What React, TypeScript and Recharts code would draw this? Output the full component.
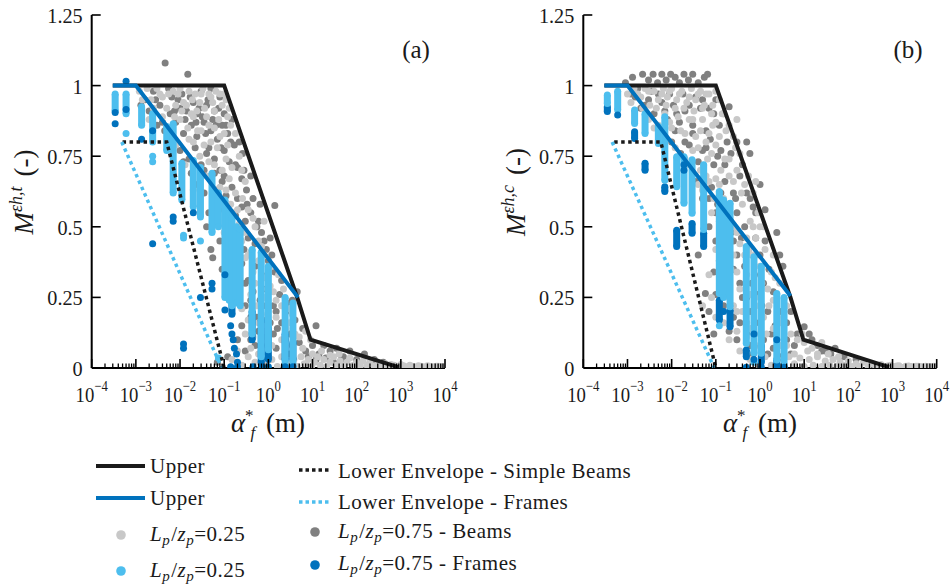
import React from 'react';
import { ScatterChart, Scatter, XAxis, YAxis } from 'recharts';

type P = [number, number];
type S = [number, number, number];

const FONT = 'Liberation Serif, DejaVu Serif, serif';
const FS = { fontFamily: FONT };
const CSS = `.cmfig, .cmfig text, .cmfig tspan { font-family: 'Liberation Serif', 'DejaVu Serif', serif !important; }`;
const C_LG = '#c8c8c8';
const C_DG = '#808080';
const C_LB = '#4dbeee';
const C_DB = '#0072bd';
const C_BLK = '#1a1a1a';

// axis ticks
const X_MAJOR = [1e-4, 1e-3, 1e-2, 1e-1, 1, 10, 100, 1000, 10000];
const X_EXP = ['\u22124', '\u22123', '\u22122', '\u22121', '0', '1', '2', '3', '4'];
const X_MINOR_STEPS = [2, 3, 4, 5, 6, 7, 8, 9];
const Y_TICKS = [0, 0.25, 0.5, 0.75, 1, 1.25];
const Y_LABELS = ['0', '0.25', '0.5', '0.75', '1', '1.25'];

// ---------- panel (a) ----------
const UPPER_BLACK_A: P[] = [[3e-4, 1], [0.1, 1], [4.5, 0.25], [9, 0.1], [880, 0.003]];
const UPPER_BLUE_A: P[] = [[3e-4, 1], [1e-3, 1], [4.7, 0.25]];
const LOWER_BEAMS_A: P[] = [[5e-4, 0.8], [5e-3, 0.8], [0.1, 0]];
const LOWER_FRAMES_A: P[] = [[4.8e-4, 0.8], [0.088, 0]];

const DG_A: P[] = [
  [0.0046, 1.08], [0.015, 1.04], [0.0025, 0.98], [0.0055, 0.99], [0.011, 0.97], [0.03, 0.98], [0.05, 0.99],
  [0.0016, 0.95], [0.002, 0.91], [0.0035, 0.93], [0.006, 0.9], [0.009, 0.95], [0.014, 0.91], [0.02, 0.94], [0.025, 0.9], [0.04, 0.93], [0.06, 0.91], [0.08, 0.96], [0.1, 0.9],
  [0.003, 0.86], [0.0045, 0.84], [0.008, 0.87], [0.012, 0.83], [0.018, 0.86], [0.024, 0.82], [0.035, 0.87], [0.05, 0.84], [0.07, 0.81], [0.09, 0.86], [0.12, 0.83], [0.15, 0.88],
  [0.01, 0.77], [0.016, 0.74], [0.022, 0.78], [0.03, 0.72], [0.04, 0.76], [0.06, 0.74], [0.08, 0.7], [0.1, 0.77], [0.13, 0.73], [0.17, 0.79], [0.2, 0.71], [0.26, 0.76],
  [0.025, 0.65], [0.035, 0.62], [0.05, 0.67], [0.07, 0.63], [0.09, 0.66], [0.11, 0.61], [0.15, 0.64], [0.2, 0.6], [0.25, 0.67], [0.32, 0.63], [0.4, 0.68],
  [0.045, 0.55], [0.06, 0.52], [0.1, 0.56], [0.13, 0.5], [0.18, 0.54], [0.25, 0.57], [0.3, 0.52], [0.4, 0.55], [0.55, 0.5], [0.65, 0.58], [1.4, 0.575],
  [0.05, 0.42], [0.08, 0.45], [0.12, 0.44], [0.2, 0.47], [0.28, 0.42], [0.35, 0.46], [0.5, 0.44], [0.7, 0.48], [0.9, 0.42], [1.1, 0.46],
  [0.09, 0.35], [0.15, 0.33], [0.25, 0.37], [0.35, 0.31], [0.5, 0.36], [0.7, 0.33], [1.0, 0.38], [1.4, 0.34], [2.0, 0.31],
  [0.12, 0.25], [0.2, 0.28], [0.3, 0.22], [0.45, 0.27], [0.65, 0.24], [0.9, 0.28], [1.3, 0.22], [1.8, 0.26], [2.6, 0.23], [4.5, 0.27],
  [0.25, 0.15], [0.4, 0.18], [0.6, 0.13], [0.9, 0.17], [1.3, 0.12], [2, 0.16], [3, 0.12], [4, 0.17], [6, 0.14], [12, 0.15],
  [0.3, 0.06], [0.5, 0.08], [0.8, 0.04], [1.5, 0.07], [3, 0.05], [5, 0.09], [7, 0.06], [10, 0.08], [14, 0.05], [18, 0.08], [25, 0.06], [35, 0.07], [50, 0.04], [70, 0.06], [100, 0.03], [150, 0.05], [250, 0.03], [400, 0.02],
  [0.055, 0.39], [0.04, 0.5], [0.07, 0.02], [0.12, 0.04],
  [0.0013, 0.93], [0.0028, 0.95], [0.004, 0.87], [0.0065, 0.96], [0.0075, 0.91], [0.01, 0.92], [0.013, 0.88], [0.017, 0.96], [0.023, 0.87], [0.027, 0.92], [0.032, 0.89], [0.038, 0.83], [0.043, 0.95], [0.055, 0.88], [0.065, 0.86], [0.075, 0.92], [0.085, 0.78], [0.11, 0.86], [0.14, 0.8], [0.18, 0.72], [0.22, 0.8], [0.28, 0.7], [0.33, 0.58], [0.45, 0.6], [0.6, 0.52], [0.8, 0.45], [1.2, 0.4],
  [0.035, 0.7], [0.045, 0.78], [0.06, 0.69], [0.075, 0.58], [0.1, 0.68], [0.14, 0.55], [0.16, 0.46], [0.22, 0.38], [0.3, 0.3], [0.4, 0.24], [0.55, 0.18], [0.75, 0.22], [1.1, 0.16], [1.6, 0.14], [2.4, 0.1], [3.5, 0.08], [8, 0.04], [12, 0.03], [20, 0.035], [30, 0.02], [45, 0.03],
  [0.2, 0.1], [0.4, 0.1], [0.7, 0.08], [1, 0.04], [1.5, 0.2], [2.5, 0.2], [3.5, 0.24], [0.018, 0.69], [0.012, 0.73],
];

const LG_A: P[] = [
  [0.0012, 0.98], [0.0018, 0.99], [0.0022, 0.95], [0.003, 0.99], [0.004, 0.96], [0.005, 0.92], [0.007, 0.98], [0.008, 0.93], [0.01, 0.99], [0.012, 0.94], [0.016, 0.98], [0.018, 0.9], [0.022, 0.97], [0.028, 0.94], [0.033, 0.99], [0.04, 0.89], [0.045, 0.97], [0.055, 0.94], [0.065, 0.98], [0.075, 0.88], [0.09, 0.93], [0.11, 0.95], [0.13, 0.92],
  [0.002, 0.88], [0.004, 0.89], [0.006, 0.85], [0.01, 0.88], [0.015, 0.85], [0.02, 0.89], [0.03, 0.84], [0.045, 0.86], [0.06, 0.85], [0.1, 0.83], [0.14, 0.86],
  [0.008, 0.79], [0.013, 0.72], [0.02, 0.8], [0.028, 0.75], [0.045, 0.73], [0.07, 0.78], [0.11, 0.74], [0.15, 0.71], [0.22, 0.75],
  [0.02, 0.63], [0.04, 0.68], [0.06, 0.6], [0.08, 0.64], [0.13, 0.67], [0.18, 0.62], [0.3, 0.66],
  [0.07, 0.54], [0.09, 0.58], [0.16, 0.55], [0.22, 0.51], [0.35, 0.56], [0.45, 0.53], [0.8, 0.52],
  [0.1, 0.48], [0.16, 0.43], [0.25, 0.45], [0.4, 0.41], [0.6, 0.45], [0.8, 0.4],
  [0.2, 0.36], [0.3, 0.39], [0.45, 0.34], [0.6, 0.38], [0.85, 0.32], [1.2, 0.36], [1.7, 0.33],
  [0.25, 0.21], [0.4, 0.26], [0.55, 0.22], [0.8, 0.25], [1.1, 0.29], [1.5, 0.24], [2.2, 0.28], [3, 0.21],
  [0.3, 0.12], [0.45, 0.11], [0.7, 0.19], [1, 0.15], [1.5, 0.18], [2.5, 0.14], [3.5, 0.19], [5, 0.11], [7, 0.13], [9, 0.1],
  [0.0014, 0.95], [0.0025, 0.92], [0.0035, 0.97], [0.0055, 0.97], [0.0075, 0.89], [0.009, 0.97], [0.011, 0.91], [0.014, 0.93], [0.019, 0.95], [0.024, 0.91], [0.03, 0.97], [0.036, 0.92], [0.05, 0.96], [0.06, 0.91], [0.08, 0.97], [0.1, 0.97], [0.12, 0.89],
  [0.016, 0.81], [0.025, 0.84], [0.035, 0.79], [0.05, 0.8], [0.08, 0.82], [0.12, 0.79], [0.18, 0.83], [0.25, 0.7], [0.06, 0.72], [0.09, 0.7], [0.11, 0.63], [0.14, 0.58], [0.2, 0.56], [0.26, 0.6],
  [0.12, 0.52], [0.2, 0.42], [0.3, 0.48], [0.5, 0.5], [0.7, 0.43], [0.35, 0.4], [0.5, 0.3], [0.7, 0.28], [1, 0.33], [1.3, 0.27], [2, 0.22],
  [0.35, 0.17], [0.6, 0.16], [0.9, 0.11], [1.2, 0.08], [2, 0.1], [3, 0.16], [4, 0.12], [6, 0.07], [10, 0.05], [16, 0.06], [25, 0.045], [40, 0.05], [0.2, 0.06], [0.4, 0.07], [0.7, 0.05],
  [0.15, 0.03], [0.25, 0.01], [0.35, 0.04], [0.5, 0.02], [0.6, 0.05], [0.8, 0.01], [1.2, 0.03], [1.6, 0.005], [2, 0.04], [2.8, 0.015], [3.8, 0.03], [4.5, 0.005], [5.5, 0.04], [6.5, 0.015], [8, 0.03], [9.5, 0.005], [11, 0.02], [13, 0.04], [15, 0.01], [18, 0.03], [21, 0.005], [25, 0.02], [30, 0.04], [35, 0.01], [42, 0.025], [50, 0.005], [60, 0.02], [70, 0.035], [85, 0.01], [100, 0.02], [120, 0.005], [140, 0.025], [170, 0.01], [200, 0.02], [250, 0.005], [300, 0.015], [350, 0.005], [450, 0.015], [550, 0.004], [700, 0.01], [850, 0.004], [1000, 0.012], [1300, 0.004], [1600, 0.01], [2000, 0.004], [2500, 0.008], [3200, 0.004], [4000, 0.008], [5000, 0.003], [6300, 0.006], [8000, 0.003], [9500, 0.004],
  [1150, 0.008], [1800, 0.006], [2800, 0.006], [3600, 0.002], [4500, 0.006], [5600, 0.004], [7000, 0.006], [8800, 0.005], [400, 0.008], [600, 0.012], [780, 0.006],
];

const LB_STREAKS_A: S[] = [
  [3.4e-4, 0.91, 0.97], [6e-4, 0.9, 0.97], [1.35e-3, 0.86, 0.925], [2.4e-3, 0.8, 0.9], [5e-3, 0.77, 0.855], [7e-3, 0.62, 0.865],
  [0.011, 0.595, 0.725], [0.02, 0.57, 0.735], [0.029, 0.535, 0.71], [0.053, 0.48, 0.69], [0.074, 0.5, 0.62],
  [0.104, 0.25, 0.595], [0.13, 0.24, 0.55], [0.15, 0.22, 0.53], [0.19, 0.23, 0.5], [0.23, 0.22, 0.49],
  [0.43, 0.12, 0.42], [0.69, 0.04, 0.41], [1.0, 0.065, 0.36], [2.4, 0.0, 0.25], [3.6, 0.0, 0.23],
];
const DB_STREAKS_A: S[] = [
  [0.43, 0.1, 0.2], [0.69, 0.02, 0.17], [1.0, 0.03, 0.14], [2.4, 0.03, 0.12], [0.15, 0.19, 0.3], [3.6, 0.03, 0.09],
];
const LB_A: P[] = [[6e-4, 0.83], [2.4e-3, 0.75], [2.4e-3, 0.73], [0.012, 0.47], [0.012, 0.46], [0.074, 0.035], [0.029, 0.45]];
const DB_A: P[] = [
  [6e-4, 1.015], [3.4e-4, 0.905], [3.4e-4, 0.865], [6e-4, 0.915], [1.35e-3, 0.81], [2.4e-3, 0.44], [2.4e-3, 0.84],
  [7e-3, 0.535], [7e-3, 0.52], [0.012, 0.085], [0.012, 0.07], [0.02, 0.55], [0.029, 0.25], [0.053, 0.3], [0.053, 0.28],
  [0.104, 0.205], [0.14, 0.15], [0.15, 0.12], [0.16, 0.1], [0.17, 0.07], [0.19, 0.05], [0.2, 0.02],
  [0.14, 0.004], [0.2, 0.004], [0.45, 0.004], [0.7, 0.004], [1, 0.004], [2.4, 0.004], [3.6, 0.004], [0.104, 0.33],
];

// ---------- panel (b) ----------
const UPPER_BLACK_B: P[] = [[3e-4, 1], [0.1, 1], [4.9, 0.25], [9.6, 0.1], [830, 0.003]];
const UPPER_BLUE_B: P[] = [[3e-4, 1], [1e-3, 1], [4.9, 0.255]];
const LOWER_BEAMS_B: P[] = [[5e-4, 0.8], [5.7e-3, 0.8], [0.1, 0]];
const LOWER_FRAMES_B: P[] = [[4.5e-4, 0.8], [0.092, 0]];

const DG_B: P[] = [
  [0.0009, 1.01], [0.0013, 1.03], [0.0017, 0.99], [0.0022, 1.04], [0.003, 1.02], [0.0038, 1.04], [0.0048, 1.01], [0.006, 1.04], [0.0075, 1.02], [0.0095, 1.04], [0.012, 1.03], [0.015, 1.01], [0.019, 1.04], [0.024, 1.02], [0.03, 1.04], [0.04, 1.01], [0.055, 1.03], [0.065, 1.04],
  [0.0015, 0.96], [0.002, 0.92], [0.003, 0.95], [0.004, 0.9], [0.006, 0.94], [0.008, 0.88], [0.011, 0.93], [0.015, 0.87], [0.02, 0.91], [0.03, 0.86], [0.045, 0.92], [0.06, 0.84], [0.09, 0.9], [0.12, 0.86], [0.2, 0.925],
  [0.01, 0.8], [0.016, 0.76], [0.025, 0.79], [0.04, 0.73], [0.06, 0.78], [0.09, 0.72], [0.13, 0.77], [0.18, 0.8], [0.3, 0.8], [0.5, 0.8], [0.59, 0.76],
  [0.035, 0.66], [0.05, 0.6], [0.08, 0.64], [0.11, 0.58], [0.16, 0.66], [0.25, 0.62], [0.35, 0.68], [0.6, 0.6], [1.0, 0.65], [1.3, 0.56],
  [0.07, 0.5], [0.1, 0.45], [0.15, 0.52], [0.22, 0.48], [0.3, 0.55], [0.45, 0.5], [0.7, 0.57], [2.4, 0.48],
  [0.12, 0.38], [0.2, 0.32], [0.3, 0.4], [0.45, 0.36], [0.65, 0.3], [1, 0.4], [1.6, 0.35], [3.3, 0.36],
  [0.15, 0.22], [0.25, 0.18], [0.4, 0.25], [0.6, 0.2], [0.9, 0.26], [1.5, 0.2], [2.2, 0.15], [5, 0.2],
  [0.3, 0.1], [0.6, 0.08], [1.2, 0.1], [2, 0.07], [4, 0.1], [7, 0.12], [10, 0.146], [13, 0.12], [20, 0.08], [30, 0.06], [50, 0.07], [80, 0.04], [150, 0.03],
  [0.058, 0.264], [0.07, 0.2], [0.04, 0.4], [0.09, 0.12],
  [0.0012, 0.97], [0.0025, 0.93], [0.0035, 0.98], [0.005, 0.97], [0.007, 0.91], [0.009, 0.97], [0.013, 0.9], [0.018, 0.97], [0.025, 0.93], [0.035, 0.96], [0.05, 0.95], [0.07, 0.92], [0.1, 0.95], [0.15, 0.9],
  [0.012, 0.84], [0.02, 0.8], [0.03, 0.83], [0.05, 0.77], [0.075, 0.81], [0.11, 0.75], [0.16, 0.72], [0.22, 0.76], [0.4, 0.72],
  [0.055, 0.68], [0.07, 0.6], [0.13, 0.62], [0.2, 0.57], [0.28, 0.6], [0.5, 0.62], [0.8, 0.55], [0.1, 0.55],
  [0.18, 0.42], [0.25, 0.45], [0.38, 0.46], [0.55, 0.42], [0.8, 0.46], [1.3, 0.45],
  [0.09, 0.34], [0.16, 0.28], [0.25, 0.35], [0.35, 0.3], [0.5, 0.25], [0.75, 0.33], [1.2, 0.3], [2, 0.27], [2.8, 0.4],
  [0.1, 0.26], [0.2, 0.13], [0.35, 0.16], [0.5, 0.12], [0.8, 0.16], [1.1, 0.22], [1.8, 0.12], [3, 0.2], [4, 0.16], [6, 0.08], [15, 0.1], [25, 0.06], [40, 0.05], [0.7, 0.05], [1.5, 0.05], [3, 0.04], [5, 0.05],
];

const LG_B: P[] = [
  [0.001, 0.97], [0.0014, 0.99], [0.002, 0.96], [0.0025, 0.99], [0.0032, 0.93], [0.004, 0.98], [0.005, 0.95], [0.0065, 0.99], [0.008, 0.96], [0.01, 0.99], [0.013, 0.95], [0.017, 0.98], [0.022, 0.94], [0.028, 0.99], [0.035, 0.95], [0.045, 0.98], [0.055, 0.93], [0.07, 0.97], [0.085, 0.93], [0.1, 0.98],
  [0.003, 0.88], [0.005, 0.86], [0.007, 0.9], [0.01, 0.85], [0.014, 0.89], [0.02, 0.83], [0.025, 0.88], [0.035, 0.82], [0.05, 0.88], [0.07, 0.83], [0.1, 0.87], [0.14, 0.9], [0.17, 0.84],
  [0.012, 0.78], [0.02, 0.74], [0.03, 0.77], [0.045, 0.7], [0.065, 0.74], [0.1, 0.79], [0.13, 0.7], [0.2, 0.74], [0.28, 0.78],
  [0.04, 0.65], [0.06, 0.68], [0.09, 0.6], [0.12, 0.65], [0.2, 0.68], [0.3, 0.7], [0.45, 0.65], [0.7, 0.62],
  [0.08, 0.55], [0.12, 0.52], [0.18, 0.58], [0.25, 0.5], [0.4, 0.58], [0.6, 0.52], [0.9, 0.55], [1.2, 0.5],
  [0.1, 0.42], [0.18, 0.45], [0.25, 0.4], [0.35, 0.44], [0.55, 0.42], [0.8, 0.46], [1.3, 0.42], [2, 0.4],
  [0.07, 0.33], [0.15, 0.3], [0.22, 0.35], [0.35, 0.28], [0.5, 0.33], [0.75, 0.36], [1.1, 0.3], [1.8, 0.34], [2.8, 0.3],
  [0.05, 0.22], [0.1, 0.18], [0.2, 0.25], [0.3, 0.2], [0.5, 0.16], [0.8, 0.22], [1.2, 0.18], [2, 0.24], [3, 0.16], [4, 0.22],
  [0.2, 0.1], [0.35, 0.06], [0.5, 0.11], [0.8, 0.08], [1.4, 0.12], [3, 0.08], [5, 0.12], [7, 0.1], [10, 0.09], [15, 0.07], [25, 0.09],
  [0.3, 0.88], [0.8, 0.66],
  [0.0012, 0.94], [0.0017, 0.97], [0.0022, 0.92], [0.003, 0.98], [0.0045, 0.92], [0.006, 0.97], [0.0075, 0.93], [0.009, 0.98], [0.012, 0.92], [0.015, 0.97], [0.019, 0.92], [0.025, 0.96], [0.032, 0.91], [0.04, 0.97], [0.05, 0.92], [0.06, 0.97], [0.08, 0.9], [0.12, 0.95],
  [0.004, 0.85], [0.006, 0.82], [0.009, 0.87], [0.016, 0.84], [0.03, 0.88], [0.045, 0.84], [0.06, 0.8], [0.085, 0.86], [0.12, 0.82], [0.2, 0.86], [0.25, 0.82],
  [0.015, 0.75], [0.025, 0.72], [0.04, 0.78], [0.08, 0.76], [0.16, 0.74], [0.35, 0.76], [0.05, 0.63], [0.07, 0.66], [0.1, 0.67], [0.15, 0.6], [0.25, 0.66], [0.38, 0.62], [0.55, 0.68],
  [0.15, 0.48], [0.2, 0.52], [0.3, 0.48], [0.5, 0.46], [0.7, 0.5], [1, 0.5], [0.12, 0.35], [0.2, 0.38], [0.3, 0.34], [0.45, 0.4], [0.65, 0.4], [1, 0.36], [1.5, 0.28], [2.2, 0.32],
  [0.08, 0.25], [0.15, 0.16], [0.25, 0.22], [0.4, 0.2], [0.6, 0.26], [1, 0.25], [1.6, 0.22], [2.5, 0.18], [0.3, 0.13], [0.6, 0.14], [1, 0.12], [2, 0.14], [4, 0.08], [6, 0.05], [9, 0.12], [12, 0.06], [20, 0.05], [35, 0.05], [60, 0.04],
  [0.6, 0.03], [0.9, 0.01], [1.3, 0.04], [1.8, 0.01], [2.5, 0.03], [3.5, 0.005], [4.5, 0.04], [6, 0.015], [8, 0.035], [10, 0.005], [13, 0.03], [16, 0.01], [20, 0.04], [25, 0.005], [30, 0.025], [38, 0.01], [45, 0.03], [55, 0.005], [65, 0.02], [80, 0.01], [100, 0.025], [120, 0.005], [150, 0.015], [180, 0.005], [220, 0.02], [280, 0.005], [350, 0.015], [450, 0.004], [550, 0.012], [700, 0.004], [900, 0.01], [1100, 0.004], [1400, 0.008], [1800, 0.003], [2300, 0.007], [3000, 0.003], [3800, 0.006], [5000, 0.003], [6300, 0.005], [8000, 0.003], [9500, 0.004],
  [1250, 0.007], [2000, 0.006], [2700, 0.005], [3400, 0.006], [4300, 0.005], [5600, 0.006], [7100, 0.005], [8800, 0.006], [400, 0.01], [620, 0.006], [800, 0.008],
];

const LB_STREAKS_B: S[] = [
  [3.5e-4, 0.937, 0.967], [6e-4, 0.914, 0.98], [1.45e-3, 0.866, 0.914], [2.5e-3, 0.83, 0.9], [5e-3, 0.795, 0.855], [7e-3, 0.665, 0.89],
  [0.013, 0.642, 0.748], [0.019, 0.583, 0.748], [0.029, 0.548, 0.737], [0.053, 0.49, 0.72],
  [0.12, 0.264, 0.625], [0.15, 0.25, 0.595], [0.21, 0.217, 0.583],
  [0.49, 0.087, 0.43], [0.73, 0.052, 0.394], [1.07, 0.052, 0.36], [2.4, 0.028, 0.264], [3.5, 0.005, 0.25],
];
const DB_STREAKS_B: S[] = [
  [3.5e-4, 0.908, 0.925], [1.45e-3, 0.813, 0.837], [2.5e-3, 0.7, 0.725], [7e-3, 0.625, 0.642], [0.013, 0.43, 0.488],
  [0.029, 0.477, 0.512], [0.053, 0.43, 0.477], [0.12, 0.17, 0.24], [0.21, 0.146, 0.205], [0.49, 0.04, 0.064], [1.07, 0.02, 0.08], [2.4, 0.0, 0.03],
];
const LB_B: P[] = [[0.12, 0.15], [0.73, 0.02]];
const DB_B: P[] = [[6e-4, 0.896], [0.019, 0.72], [0.019, 0.7], [0.73, 0.12], [0.73, 0.03], [1.07, 0.003], [2.4, 0.1], [3.5, 0.003], [0.49, 0.003], [0.15, 0.2]];

// ---------- helpers ----------
const X_TICKS: number[] = X_MAJOR.flatMap((m, i) => (i < X_MAJOR.length - 1 ? [m, ...X_MINOR_STEPS.map((k) => k * m)] : [m]));
const pts = (arr: P[]) => arr.map(([x, y]) => ({ x, y }));
const noDot = () => <g />;
const dot = (color: string, r = 3.5) => (p: any) => <circle cx={p.cx} cy={p.cy} r={r} fill={color} />;

const XTick = (props: any) => {
  const { x, y, payload } = props;
  const v = payload.value;
  const idx = X_MAJOR.findIndex((m) => Math.abs(m - v) / m < 1e-6);
  if (idx < 0) return <line x1={x} x2={x} y1={y} y2={y - 4.5} stroke="#000" strokeWidth={1.3} />;
  return (
    <g>
      <line x1={x} x2={x} y1={y} y2={y - 9} stroke="#000" strokeWidth={1.6} />
      <text transform={`translate(${x},${y + 34}) scale(0.85,1)`} textAnchor="middle" style={FS} fontSize={22} fill="#1a1a1a">
        10<tspan fontSize={15} dy={-11}>{X_EXP[idx]}</tspan>
      </text>
    </g>
  );
};

const YTick = (props: any) => {
  const { x, y, payload } = props;
  const i = Y_TICKS.indexOf(payload.value);
  return (
    <g>
      {payload.value > 0 && <line x1={x} x2={x + 9} y1={y} y2={y} stroke="#000" strokeWidth={1.6} />}
      <text transform={`translate(${x - 9},${y + 8}) scale(0.92,1)`} textAnchor="end" style={FS} fontSize={22} fill="#1a1a1a">
        {Y_LABELS[i]}
      </text>
    </g>
  );
};

type PanelProps = {
  left: number; ml: number; mr: number;
  dg: P[]; lg: P[]; lbS: S[]; dbS: S[]; lb: P[]; db: P[];
  upBlack: P[]; upBlue: P[]; lowBeams: P[]; lowFrames: P[];
};

const Panel = (p: PanelProps) => (
  <div style={{ position: 'absolute', left: p.left, top: 0, fontFamily: FONT }}>
    <ScatterChart width={475} height={445} margin={{ top: 15, right: p.mr, bottom: 76, left: p.ml - 1 }} style={FS}>
      <XAxis type="number" dataKey="x" scale="log" domain={[1e-4, 1e4]} allowDataOverflow ticks={X_TICKS} interval={0}
        tickSize={0} tickMargin={0} tickLine={false} tick={(t: any) => <XTick {...t} />} axisLine={{ stroke: '#000', strokeWidth: 2 }} height={1} />
      <YAxis type="number" dataKey="y" domain={[0, 1.25]} allowDataOverflow ticks={Y_TICKS} interval={0}
        tickSize={0} tickMargin={0} tickLine={false} tick={(t: any) => <YTick {...t} />} axisLine={{ stroke: '#000', strokeWidth: 2 }} width={1} />
      <Scatter data={pts(p.dg)} fill={C_DG} shape={dot(C_DG)} isAnimationActive={false} />
      <Scatter data={pts(p.lg)} fill={C_LG} shape={dot(C_LG)} isAnimationActive={false} />
      {p.dbS.map(([x, lo, hi], i) => (
        <Scatter key={'dbs' + i} data={[{ x, y: lo }, { x, y: hi }]} fill={C_DB} shape={dot(C_DB)}
          line={{ stroke: C_DB, strokeWidth: 7 }} isAnimationActive={false} />
      ))}
      {p.lbS.map(([x, lo, hi], i) => (
        <Scatter key={'lbs' + i} data={[{ x, y: lo }, { x, y: hi }]} fill={C_LB} shape={dot(C_LB)}
          line={{ stroke: C_LB, strokeWidth: 7 }} isAnimationActive={false} />
      ))}
      <Scatter data={pts(p.lb)} fill={C_LB} shape={dot(C_LB)} isAnimationActive={false} />
      <Scatter data={pts(p.db)} fill={C_DB} shape={dot(C_DB)} isAnimationActive={false} />
      <Scatter data={pts(p.upBlack)} fill={C_BLK} shape={noDot} line={{ stroke: C_BLK, strokeWidth: 4 }} isAnimationActive={false} />
      <Scatter data={pts(p.lowBeams)} fill={C_BLK} shape={noDot} line={{ stroke: C_BLK, strokeWidth: 3.5, strokeDasharray: '3.5 3.5' }} isAnimationActive={false} />
      <Scatter data={pts(p.lowFrames)} fill={C_LB} shape={noDot} line={{ stroke: C_LB, strokeWidth: 3.5, strokeDasharray: '3.5 3.5' }} isAnimationActive={false} />
      <Scatter data={pts(p.upBlue)} fill={C_DB} shape={noDot} line={{ stroke: C_DB, strokeWidth: 4 }} isAnimationActive={false} />
    </ScatterChart>
  </div>
);

// ---------- legend ----------
type LegItem = { kind: 'line' | 'dotted' | 'dot'; color: string; text: string; math?: boolean; suffix?: string };
const LEGEND_COL1: LegItem[] = [
  { kind: 'line', color: C_BLK, text: 'Upper' },
  { kind: 'line', color: C_DB, text: 'Upper' },
  { kind: 'dot', color: C_LG, text: '', math: true, suffix: '=0.25' },
  { kind: 'dot', color: C_LB, text: '', math: true, suffix: '=0.25' },
];
const LEGEND_COL2: LegItem[] = [
  { kind: 'dotted', color: C_BLK, text: 'Lower Envelope - Simple Beams' },
  { kind: 'dotted', color: C_LB, text: 'Lower Envelope - Frames' },
  { kind: 'dot', color: C_DG, text: '', math: true, suffix: '=0.75 - Beams' },
  { kind: 'dot', color: C_DB, text: '', math: true, suffix: '=0.75 - Frames' },
];
const COL1_Y = [466, 498, 535, 571];
const COL1_TY = [473, 505, 541, 577];
const COL2_Y = [470, 502, 532, 565];
const COL2_TY = [478, 509, 538, 570];

const LegendText = ({ item, x, y }: { item: LegItem; x: number; y: number }) => (
  <text x={x} y={y} style={{ fontFamily: FONT, letterSpacing: '0.5px' }} fontSize={21} fill="#1a1a1a">
    {item.math ? (
      <>
        <tspan fontStyle="italic">L</tspan>
        <tspan fontStyle="italic" fontSize={15} dy={4}>p</tspan>
        <tspan dy={-4} dx={1}>/</tspan>
        <tspan fontStyle="italic">z</tspan>
        <tspan fontStyle="italic" fontSize={15} dy={4}>p</tspan>
        <tspan dy={-4}>{item.suffix}</tspan>
      </>
    ) : (
      item.text
    )}
  </text>
);

const LegendMark = ({ item, x1, x2, cx, y }: { item: LegItem; x1: number; x2: number; cx: number; y: number }) => {
  if (item.kind === 'dot') return <circle cx={cx} cy={y} r={4.8} fill={item.color} />;
  if (item.kind === 'dotted')
    return <line x1={x1} x2={x2} y1={y} y2={y} stroke={item.color} strokeWidth={3.5} strokeDasharray="3.5 3" />;
  return <line x1={x1} x2={x2} y1={y} y2={y} stroke={item.color} strokeWidth={4} />;
};

const Overlay = () => (
  <svg width={950} height={587} style={{ position: 'absolute', left: 0, top: 0, pointerEvents: 'none', fontFamily: FONT }}>
    <text x={416} y={58} textAnchor="middle" style={FS} fontSize={25} fill="#1a1a1a">(a)</text>
    <text x={908} y={58} textAnchor="middle" style={FS} fontSize={25} fill="#1a1a1a">(b)</text>
    {[268, 760].map((cx) => (
      <text key={cx} x={cx} y={432} textAnchor="middle" style={FS} fontSize={27} fill="#1a1a1a">
        <tspan fontStyle="italic">α</tspan>
        <tspan fontSize={17} dy={-11}>*</tspan>
        <tspan fontSize={17} fontStyle="italic" dx={-3} dy={17}>f</tspan>
        <tspan dy={-6} dx={4}> (m)</tspan>
      </text>
    ))}
    {[
      { x: 33, sup: 'εh,t' },
      { x: 525, sup: 'εh,c' },
    ].map((t) => (
      <text key={t.x} transform={`rotate(-90 ${t.x} 192)`} x={t.x} y={192} textAnchor="middle" style={FS} fontSize={27} fill="#1a1a1a">
        <tspan fontStyle="italic">M</tspan>
        <tspan fontSize={18} fontStyle="italic" dy={-11}>{t.sup}</tspan>
        <tspan dy={11} dx={10}>(-)</tspan>
      </text>
    ))}
    {LEGEND_COL1.map((it, i) => (
      <g key={'l1' + i}>
        <LegendMark item={it} x1={96} x2={145} cx={121} y={COL1_Y[i]} />
        <LegendText item={it} x={150} y={COL1_TY[i]} />
      </g>
    ))}
    {LEGEND_COL2.map((it, i) => (
      <g key={'l2' + i}>
        <LegendMark item={it} x1={299} x2={329} cx={315} y={COL2_Y[i]} />
        <LegendText item={it} x={338} y={COL2_TY[i]} />
      </g>
    ))}
  </svg>
);

export default function App() {
  return (
    <div className="cmfig" style={{ position: 'absolute', left: 0, top: 0, width: 950, height: 587, background: '#fff', overflow: 'hidden', fontFamily: FONT }}>
      <style>{CSS}</style>
      <Panel left={0} ml={91.7} mr={30} dg={DG_A} lg={LG_A} lbS={LB_STREAKS_A} dbS={DB_STREAKS_A} lb={LB_A} db={DB_A}
        upBlack={UPPER_BLACK_A} upBlue={UPPER_BLUE_A} lowBeams={LOWER_BEAMS_A} lowFrames={LOWER_FRAMES_A} />
      <Panel left={475} ml={108.3} mr={13.3} dg={DG_B} lg={LG_B} lbS={LB_STREAKS_B} dbS={DB_STREAKS_B} lb={LB_B} db={DB_B}
        upBlack={UPPER_BLACK_B} upBlue={UPPER_BLUE_B} lowBeams={LOWER_BEAMS_B} lowFrames={LOWER_FRAMES_B} />
      <Overlay />
    </div>
  );
}
